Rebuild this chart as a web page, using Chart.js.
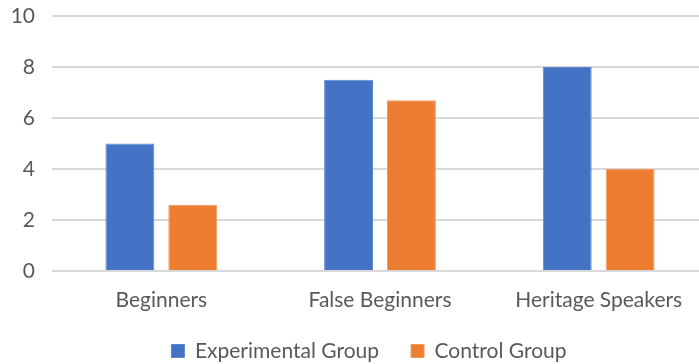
<!DOCTYPE html>
<html>
<head>
<meta charset="utf-8">
<script src="https://cdn.jsdelivr.net/npm/chart.js@4"></script>
<style>
  html, body { margin: 0; padding: 0; background: #fff; overflow: hidden; }
  #wrap { width: 712px; height: 364px; position: relative; }
</style>
</head>
<body>
<div id="wrap"><canvas id="chart"></canvas></div>
<script>
const categories = ['Beginners', 'False Beginners', 'Heritage Speakers'];
const experimentalGroup = [5.0, 7.5, 8.0];
const controlGroup = [2.6, 6.7, 4.0];
const seriesNames = ['Experimental Group', 'Control Group'];

const FONT = 'Lato, "Open Sans", sans-serif';
const TEXT = '#595959';
const labelFont = { family: FONT, size: 21, lineHeight: 1 };

// Give axis labels room to draw outside their fitted boxes
const labelRoom = {
  id: 'labelRoom',
  afterLayout(chart) {
    chart.scales.x.bottom += 30;
    chart.scales.y.left = 0;
  }
};

new Chart(document.getElementById('chart'), {
  type: 'bar',
  data: {
    labels: categories,
    datasets: [
      { label: seriesNames[0], data: experimentalGroup, backgroundColor: '#4472c4', borderColor: '#5b86d1', borderWidth: 1 },
      { label: seriesNames[1], data: controlGroup, backgroundColor: '#ed7d31', borderColor: '#f29a60', borderWidth: 1 }
    ]
  },
  plugins: [labelRoom],
  options: {
    responsive: true,
    maintainAspectRatio: false,
    animation: false,
    datasets: { bar: { categoryPercentage: 0.575, barPercentage: 0.778 } },
    layout: { padding: { top: 0, right: 4, bottom: -7.5, left: 30 } },
    plugins: {
      legend: {
        position: 'bottom',
        labels: {
          font: labelFont,
          color: TEXT,
          boxWidth: 13,
          boxHeight: 13,
          padding: 32
        }
      },
      tooltip: { enabled: false }
    },
    scales: {
      x: {
        grid: { display: false, drawTicks: false },
        border: { display: false },
        ticks: { font: labelFont, color: TEXT, padding: 19 },
        afterFit(scale) { scale.height = 37.5; }
      },
      y: {
        min: 0,
        max: 10,
        ticks: { stepSize: 2, font: labelFont, color: TEXT, padding: 17 },
        grid: { color: '#d9d9d9', lineWidth: 2, drawTicks: false },
        border: { display: false },
        afterFit(scale) {
          scale.width = 22;
          scale.paddingTop = 16;
          scale.paddingBottom = 0;
        }
      }
    }
  }
});
</script>
</body>
</html>
